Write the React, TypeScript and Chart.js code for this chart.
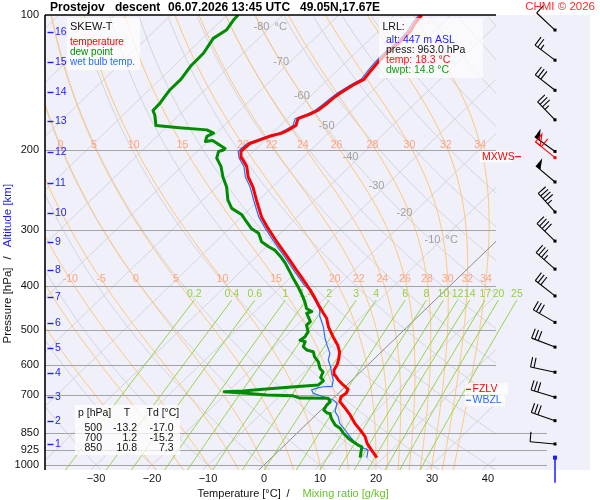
import React, { useEffect, useRef } from "react";
import { Chart, registerables } from "chart.js";
Chart.register(...registerables);

const FF = '"Liberation Sans", Arial, Helvetica, sans-serif';
Chart.defaults.font.family = FF;

// ---- diagram constants ----
const SKEW = 83.37; // degC per decade of pressure
const P_TOP = 100;
const P_BOT = 1025.9;
const X_MIN = -39.11;
const X_MAX = 41.43;

// ---- header / info ----
const station = "Prostejov";
const soundingType = "descent";
const dateText = "06.07.2026 13:45 UTC";
const locationText = "49.05N,17.67E";
const copyrightText = "CHMI © 2026";

// ---- axes ----
const pressureTicks = [100, 200, 300, 400, 500, 600, 700, 850, 925, 1000];
const tempTicks = [-30, -20, -10, 0, 10, 20, 30, 40];
const altKm = [1, 2, 3, 4, 5, 6, 7, 8, 9, 10, 11, 12, 13, 14, 15, 16];
const altP = [898, 799, 706, 625, 550, 484, 423, 369, 319, 275, 236, 202, 172, 148, 127, 109];

// ---- temperature profile ----
const tempP = [963, 929, 895, 865, 836, 808, 774, 748, 723, 705, 693, 679, 664, 647, 631, 615, 599, 579, 560, 541, 523, 493, 472, 460, 441, 419, 398, 369, 344, 319, 298, 281, 258, 241, 229, 217, 208, 201, 199, 193, 189, 186, 183, 180, 176, 170, 166, 163, 158.5, 153, 149, 143, 139, 132.5, 127, 121.6, 114.6, 108.9, 104.3, 100];
const tempT = [18.8, 16.6, 14.4, 12.8, 10.7, 8.5, 6.1, 4.0, 1.8, 1.1, 1.4, 1.0, -0.7, -2.5, -4.0, -5.1, -5.5, -6.4, -7.5, -9.1, -11.0, -14.1, -16.0, -17.5, -19.9, -22.7, -25.7, -30.3, -34.5, -39.1, -43.1, -46.4, -50.4, -53.5, -56.2, -58.4, -60.8, -62.2, -62.2, -62.1, -60.8, -59.9, -58.3, -57.7, -57.2, -58.1, -56.8, -56.1, -55.8, -55.6, -55.3, -54.5, -53.6, -54.0, -54.3, -54.4, -54.1, -54.2, -54.9, -55.2];

// ---- dew point profile ----
const dewP = [963, 911, 903, 888, 872, 850, 829, 815, 788, 768, 766, 755, 736, 723, 711, 710, 702, 699, 693, 687, 685, 679, 670, 664, 650, 639, 621, 610, 590, 575, 560, 555, 546, 532, 528, 519, 506, 489, 480, 468, 460, 456, 449, 437, 423, 402, 381, 356, 344, 333, 327, 319, 305.5, 298, 288, 278, 269, 258, 241, 229, 217, 208, 201, 199.5, 198, 190, 191, 186, 183, 180, 178, 176, 167, 163, 157, 153, 147, 139, 130, 121.6, 112.7, 108, 102.6, 100];
const dewT = [15.8, 14.1, 13.1, 11.6, 10.1, 8.3, 6.8, 5.3, 3.4, 2.2, 1.6, 0.5, 0.1, 0.1, -0.9, -6.0, -7.6, -12.5, -16.4, -20.7, -17.4, -14.2, -9.0, -5.1, -5.0, -6.1, -6.7, -7.9, -9.4, -11.0, -12.2, -13.7, -14.9, -15.5, -16.7, -16.4, -16.8, -18.3, -18.3, -19.6, -20.5, -19.9, -21.4, -22.6, -24.2, -26.9, -29.9, -33.6, -35.7, -37.9, -39.7, -41.8, -43.9, -46.1, -48.2, -50.3, -53.3, -55.5, -58.2, -60.7, -63.0, -65.3, -66.2, -65.6, -65.6, -69.3, -70.4, -71.1, -70.5, -72.3, -77.6, -82.2, -84.3, -85.5, -85.6, -85.9, -86.3, -86.3, -87.0, -87.1, -88.1, -87.3, -87.9, -88.0];

// ---- wet bulb profile ----
const wbP = [963, 926, 911, 888, 865, 836, 808, 781, 761, 729, 717, 693, 681, 675, 670, 669, 647, 626, 605, 584, 565, 541, 519, 493, 468, 452, 437, 423, 408, 398, 369, 344, 319, 298, 281, 258, 241, 229, 217, 208, 201, 199, 193, 189, 186, 183, 180, 176, 170, 166, 163, 158.5, 153, 149, 143, 139, 132.5, 127, 121.6, 114.6, 108.9, 104.3, 100];
const wbT = [17.0, 15.8, 13.8, 11.9, 10.1, 8.0, 5.8, 4.3, 2.8, 1.6, 0.3, -4.5, -5.4, -4.8, -3.9, -2.4, -3.4, -4.9, -6.3, -8.0, -8.9, -11.0, -12.9, -15.0, -17.5, -18.8, -20.6, -22.4, -24.4, -26.2, -30.8, -35.0, -39.6, -43.6, -46.9, -50.9, -54.0, -56.7, -58.9, -61.3, -62.7, -62.7, -62.6, -61.3, -60.4, -58.8, -58.2, -57.7, -58.6, -57.3, -56.6, -56.3, -56.1, -55.8, -55.0, -54.1, -54.5, -54.8, -54.9, -54.6, -54.7, -55.4, -55.7];

// ---- winds (knots) ----
const windP = [898, 797, 707, 622, 547, 482, 421, 367, 318, 274, 235, 201, 171, 147, 126, 108];
const windDir = [275, 289, 287, 282, 291, 300, 308, 311, 314, 318, 310, 306, 316, 308, 307, 313];
const windSpd = [10, 30, 30, 20, 30, 30, 30, 35, 40, 45, 50, 50, 35, 30, 25, 10];
const mxwsP = 207.5;
const mxwsDir = 309;
const mxwsSpd = 60;

// ---- levels ----
const fzlvP = 679;
const wbzlP = 718;

// ---- lowest reported level ----
const lrlAlt = 447;
const lrlPress = 963.0;
const lrlTemp = 18.3;
const lrlDwpt = 14.8;

// ---- standard level table ----
const tableP = [500, 700, 850];
const tableT = [-13.2, 1.2, 10.8];
const tableTd = [-17.0, -15.2, 7.3];

// ---- background families ----
const isothermLabelT = [-80, -70, -60, -50, -40, -30, -20, -10];
const isothermLabelP = [106.3, 127.2, 151.4, 176.6, 206.9, 239.9, 275.4, 316.2];
const thetaW = [-20, -15, -10, -5, 0, 5, 10, 15, 20, 22, 24, 26, 28, 30, 32, 34];
const thetaWLabelP = [194.5, 387.0];
const mixRatios = [0.2, 0.4, 0.6, 1, 1.4, 2, 3, 4, 6, 8, 10, 12, 14, 17, 20, 25];
const mixTopP = 430;

const skewX = (t: number, p: number) => t + SKEW * Math.log10(1000 / p);

function lapse(p: number, Tk: number) {
  const Tc = Tk - 273.15;
  const es = 6.112 * Math.exp((17.67 * Tc) / (Tc + 243.5));
  const rs = (0.622 * es) / (p - es);
  const Rd = 287.04, cp = 1005.7, Lv = 2.501e6, eps = 0.622;
  const num = (Rd * Tk + Lv * rs) / p;
  const den = cp + (Lv * Lv * rs * eps) / (Rd * Tk * Tk);
  return num / den;
}

function moistCurve(tw: number) {
  const pts: [number, number][] = [];
  let T = tw + 273.15;
  let p = 1000;
  while (p < P_BOT) {
    const h = Math.min(2, P_BOT - p);
    T += lapse(p, T) * h;
    p += h;
  }
  pts.push([P_BOT, T - 273.15]);
  T = tw + 273.15;
  p = 1000;
  pts.push([p, T - 273.15]);
  while (p > P_TOP + 1e-6) {
    const h = Math.max(-5, P_TOP - p);
    const k1 = lapse(p, T);
    const k2 = lapse(p + h / 2, T + (h / 2) * k1);
    const k3 = lapse(p + h / 2, T + (h / 2) * k2);
    const k4 = lapse(p + h, T + h * k3);
    T += (h / 6) * (k1 + 2 * k2 + 2 * k3 + k4);
    p += h;
    pts.push([p, T - 273.15]);
  }
  return pts;
}

function interpCurve(pts: [number, number][], p: number) {
  for (let i = 1; i < pts.length; i++) {
    const [p0, t0] = pts[i - 1];
    const [p1, t1] = pts[i];
    if ((p0 - p) * (p1 - p) <= 0 && p0 !== p1) {
      const f = (p - p0) / (p1 - p0);
      return t0 + f * (t1 - t0);
    }
  }
  return pts[pts.length - 1][1];
}

function mixTd(w: number, p: number) {
  const e = (w * p) / (622 + w);
  const l = Math.log(e / 6.112);
  return (243.5 * l) / (17.67 - l);
}

const fmtMinus = (v: number) => (v < 0 ? "\u2212" + Math.abs(v) : String(v));

function txt(ctx: CanvasRenderingContext2D, s: string, x: number, y: number, color: string, size: number, align: CanvasTextAlign = "left", bold = false) {
  ctx.fillStyle = color;
  ctx.font = `${bold ? "bold " : ""}${size}px ${FF}`;
  ctx.textAlign = align;
  ctx.textBaseline = "middle";
  ctx.fillText(s, x, y);
}

function drawBarb(ctx: CanvasRenderingContext2D, x: number, y: number, dirDeg: number, spd: number, color: string, hollow: boolean) {
  const r = (dirDeg * Math.PI) / 180;
  const ux = Math.sin(r), uy = -Math.cos(r);
  const L = 25, BL = 10, HB = 5.5, GAP = 3.5, FW = 6;
  const ex = x + ux * L, ey = y + uy * L;
  const nx = -uy, ny = ux;
  ctx.save();
  ctx.strokeStyle = color;
  ctx.fillStyle = color;
  ctx.lineWidth = 1.1;
  ctx.beginPath();
  ctx.moveTo(x, y);
  ctx.lineTo(ex, ey);
  ctx.stroke();
  let s = Math.round(spd / 5) * 5;
  let d = 0;
  while (s >= 50) {
    const ax = ex - ux * d, ay = ey - uy * d;
    const bx = ex - ux * (d + FW), by = ey - uy * (d + FW);
    ctx.beginPath();
    ctx.moveTo(ax, ay);
    ctx.lineTo(ax + nx * BL, ay + ny * BL);
    ctx.lineTo(bx, by);
    ctx.closePath();
    if (hollow) ctx.stroke();
    else ctx.fill();
    d += FW + 1.5;
    s -= 50;
  }
  while (s >= 10) {
    const ax = ex - ux * d, ay = ey - uy * d;
    ctx.beginPath();
    ctx.moveTo(ax, ay);
    ctx.lineTo(ax + nx * BL, ay + ny * BL);
    ctx.stroke();
    d += GAP;
    s -= 10;
  }
  if (s >= 5) {
    if (d === 0) d = GAP;
    const ax = ex - ux * d, ay = ey - uy * d;
    ctx.beginPath();
    ctx.moveTo(ax, ay);
    ctx.lineTo(ax + nx * HB, ay + ny * HB);
    ctx.stroke();
  }
  ctx.fillRect(x - 1.5, y - 1.5, 3, 3);
  ctx.restore();
}

const skewPlugin = {
  id: "skewT",
  beforeDraw(chart: any) {
    const { ctx, chartArea } = chart;
    ctx.save();
    ctx.fillStyle = "#f0f0fa";
    ctx.fillRect(chartArea.left, chartArea.top, chartArea.right + 94 - chartArea.left, chartArea.bottom - chartArea.top);
    ctx.restore();
  },
  beforeDatasetsDraw(chart: any) {
    const { ctx, chartArea } = chart;
    const xs = chart.scales.x, ys = chart.scales.y;
    const PX = (t: number, p: number) => xs.getPixelForValue(skewX(t, p));
    const PY = (p: number) => ys.getPixelForValue(p);
    const { left, top, right, bottom } = chartArea;

    ctx.save();
    ctx.beginPath();
    ctx.rect(left, top, right - left, bottom - top);
    ctx.clip();
    ctx.lineWidth = 1;
    // dry adiabats
    ctx.strokeStyle = "#d4d4dc";
    for (let th = -40; th <= 190; th += 10) {
      ctx.beginPath();
      let first = true;
      for (let p = P_BOT; p >= P_TOP - 0.01; p -= 5) {
        const T = (th + 273.15) * Math.pow(p / 1000, 0.2857) - 273.15;
        const x = PX(T, p), y = PY(p);
        if (first) { ctx.moveTo(x, y); first = false; } else ctx.lineTo(x, y);
      }
      ctx.stroke();
    }
    // isotherms
    for (let t = -130; t <= 40; t += 10) {
      if (t === 0) continue;
      ctx.strokeStyle = "#d4d4dc";
      ctx.beginPath();
      ctx.moveTo(PX(t, P_BOT), PY(P_BOT));
      ctx.lineTo(PX(t, P_TOP), PY(P_TOP));
      ctx.stroke();
    }
    // moist adiabats
    ctx.strokeStyle = "#ffc77a";
    const curves = thetaW.map((tw) => moistCurve(tw));
    curves.forEach((pts) => {
      ctx.beginPath();
      pts.forEach(([p, t], i) => {
        const x = PX(t, p), y = PY(p);
        if (i === 0) ctx.moveTo(x, y); else ctx.lineTo(x, y);
      });
      ctx.stroke();
    });
    // 0 degC isotherm
    ctx.strokeStyle = "#8a8a8a";
    ctx.beginPath();
    ctx.moveTo(PX(0, P_BOT), PY(P_BOT));
    ctx.lineTo(PX(0, P_TOP), PY(P_TOP));
    ctx.stroke();
    ctx.restore();

    // mixing ratio lines (may run past the right edge)
    ctx.save();
    ctx.beginPath();
    ctx.rect(left, top, right + 94 - left, bottom - top);
    ctx.clip();
    ctx.strokeStyle = "#93d23c";
    ctx.lineWidth = 1;
    mixRatios.forEach((w) => {
      ctx.beginPath();
      let first = true;
      for (let p = P_BOT; p >= mixTopP - 0.01; p -= 5) {
        const x = PX(mixTd(w, p), p), y = PY(p);
        if (first) { ctx.moveTo(x, y); first = false; } else ctx.lineTo(x, y);
      }
      const xe = PX(mixTd(w, mixTopP), mixTopP);
      ctx.lineTo(xe, PY(mixTopP));
      ctx.stroke();
    });
    ctx.restore();

    // isobars
    ctx.save();
    ctx.strokeStyle = "#a4a4a4";
    ctx.lineWidth = 1.2;
    pressureTicks.forEach((p) => {
      if (p === P_TOP) return;
      const y = Math.round(PY(p)) + 0.5;
      ctx.beginPath();
      ctx.moveTo(left, y);
      ctx.lineTo(p >= 850 ? right + 51 : right, y);
      ctx.stroke();
    });
    ctx.restore();

    // labels
    ctx.save();
    curves.forEach((pts, i) => {
      thetaWLabelP.forEach((lp) => {
        const x = PX(interpCurve(pts, lp), lp);
        if (x < left + 4 || x > right - 4) return;
        txt(ctx, String(thetaW[i]), x, PY(lp), "#ffa282", 10.5, "center");
      });
    });
    mixRatios.forEach((w) => {
      const x = PX(mixTd(w, mixTopP), mixTopP);
      txt(ctx, String(w), x, PY(mixTopP) - 6, "#96d040", 10.5, "center");
    });
    isothermLabelT.forEach((t, i) => {
      const p = isothermLabelP[i];
      const x = PX(t, p) - 1;
      const y = PY(p);
      txt(ctx, String(t), x, y, "#a0a0a0", 11, "right");
      if (i === 0 || i === isothermLabelT.length - 1) txt(ctx, " °C", x + 2, y, "#a0a0a0", 11, "left");
    });
    ctx.restore();
  },
  afterDatasetsDraw(chart: any) {
    const { ctx, chartArea } = chart;
    const ys = chart.scales.y;
    const PY = (p: number) => ys.getPixelForValue(p);
    const { left, top, right, bottom } = chartArea;
    ctx.save();

    // frame lines
    ctx.strokeStyle = "#000";
    ctx.lineWidth = 1.6;
    ctx.beginPath();
    ctx.moveTo(left, top);
    ctx.lineTo(right, top);
    ctx.stroke();
    ctx.beginPath();
    ctx.moveTo(left, top);
    ctx.lineTo(left, bottom);
    ctx.stroke();

    // legend box
    ctx.fillStyle = "rgba(255,255,255,0.72)";
    ctx.fillRect(left + 22, top + 3, 73, 52);
    txt(ctx, "SKEW-T", left + 25, top + 12, "#111", 11);
    txt(ctx, "temperature", left + 25, top + 27, "#ff0000", 10);
    txt(ctx, "dew point", left + 25, top + 37, "#008c00", 10);
    txt(ctx, "wet bulb temp.", left + 25, top + 47, "#2a6cff", 10);

    // LRL box
    ctx.fillStyle = "rgba(255,255,255,0.68)";
    ctx.fillRect(379, top + 3, 104, 60);
    txt(ctx, "LRL:", 382.5, 27, "#111", 10.5);
    txt(ctx, `alt: ${lrlAlt} m ASL`, 386, 40, "#1c1cff", 10.5);
    txt(ctx, `press: ${lrlPress.toFixed(1)} hPa`, 386, 50, "#111", 10.5);
    txt(ctx, `temp: ${lrlTemp.toFixed(1)} °C`, 386, 60, "#ff1010", 10.5);
    txt(ctx, `dwpt: ${lrlDwpt.toFixed(1)} °C`, 386, 70, "#10a010", 10.5);

    // table box
    ctx.fillStyle = "rgba(255,255,255,0.72)";
    ctx.fillRect(75, 405, 105, 50);
    txt(ctx, "p [hPa]", 78, 413.5, "#111", 10.5);
    txt(ctx, "T", 127, 413.5, "#111", 10.5, "center");
    txt(ctx, "Td [°C]", 146.5, 413.5, "#111", 10.5);
    tableP.forEach((p, i) => {
      const y = 428.5 + i * 9.8;
      txt(ctx, String(p), 102, y, "#111", 10.5, "right");
      txt(ctx, tableT[i].toFixed(1), 137, y, "#111", 10.5, "right");
      txt(ctx, tableTd[i].toFixed(1), 173.5, y, "#111", 10.5, "right");
    });

    // FZLV / WBZL / MXWS markers
    const yf = PY(fzlvP);
    ctx.fillStyle = "rgba(255,255,255,0.8)";
    ctx.fillRect(right - 31, yf - 6, 43, 11);
    ctx.strokeStyle = "#ff0000";
    ctx.lineWidth = 1.2;
    ctx.beginPath(); ctx.moveTo(right - 30, yf); ctx.lineTo(right - 25, yf); ctx.stroke();
    txt(ctx, "FZLV", right - 23.5, yf, "#ff0000", 10.5);
    const yw = PY(wbzlP);
    ctx.fillStyle = "rgba(255,255,255,0.8)";
    ctx.fillRect(right - 31, yw - 5, 40, 11);
    ctx.strokeStyle = "#2a6cff";
    ctx.beginPath(); ctx.moveTo(right - 30, yw); ctx.lineTo(right - 25, yw); ctx.stroke();
    txt(ctx, "WBZL", right - 23.5, yw, "#2a6cff", 10.5);
    const ym = PY(mxwsP) - 1;
    ctx.fillStyle = "rgba(255,255,255,0.85)";
    ctx.fillRect(right - 16, ym - 5.5, 32, 11);
    txt(ctx, "MXWS", right - 14, ym, "#ff0000", 10.5);
    ctx.strokeStyle = "#ff0000";
    ctx.beginPath(); ctx.moveTo(right + 19, ym); ctx.lineTo(right + 25, ym); ctx.stroke();

    // altitude ticks
    altKm.forEach((k, i) => {
      const y = Math.round(PY(altP[i])) + 0.5;
      ctx.strokeStyle = "#1c1cff";
      ctx.lineWidth = 1.4;
      ctx.beginPath(); ctx.moveTo(left + 2.5, y); ctx.lineTo(left + 8.5, y); ctx.stroke();
      txt(ctx, String(k), left + 10, y, "#1c1cff", 10.5);
    });

    // wind barbs
    const bx = right + 59;
    windP.forEach((p, i) => {
      drawBarb(ctx, bx, PY(p), windDir[i], windSpd[i], "#000", false);
    });
    drawBarb(ctx, bx, PY(mxwsP), mxwsDir, mxwsSpd, "#ff0000", true);
    // surface marker
    const ysf = PY(lrlPress);
    ctx.strokeStyle = "#1c1cff";
    ctx.fillStyle = "#1c1cff";
    ctx.lineWidth = 1.5;
    ctx.beginPath(); ctx.moveTo(bx, ysf); ctx.lineTo(bx, ysf + 25); ctx.stroke();
    ctx.fillRect(bx - 2, ysf - 2, 4, 4);

    ctx.restore();
  },
  afterDraw(chart: any) {
    const { ctx } = chart;
    ctx.save();
    // title
    txt(ctx, station, 50, 7.5, "#000", 12, "left", true);
    txt(ctx, soundingType, 115, 7.5, "#000", 12, "left", true);
    txt(ctx, dateText, 168, 7.5, "#000", 12, "left", true);
    txt(ctx, locationText, 300, 7.5, "#000", 12, "left", true);
    txt(ctx, copyrightText, 595, 7, "#ff2a2a", 11.5, "right");
    // x title
    txt(ctx, "Temperature [°C]", 197.5, 493.5, "#111", 11);
    txt(ctx, "/", 288, 493.5, "#111", 11, "center");
    txt(ctx, "Mixing ratio [g/kg]", 302.5, 493.5, "#66c22a", 11);
    // y title
    ctx.translate(8, 0);
    ctx.rotate(-Math.PI / 2);
    txt(ctx, "Pressure [hPa]", -305.5, 0, "#111", 11.5, "center");
    txt(ctx, "/", -258, 0, "#111", 11.5, "center");
    txt(ctx, "Altitude [km]", -215.5, 0, "#1c1cff", 11.5, "center");
    ctx.restore();
  },
};

export default function App() {
  const ref = useRef<HTMLCanvasElement>(null);
  useEffect(() => {
    const toXY = (ps: number[], ts: number[]) => ps.map((p, i) => ({ x: skewX(ts[i], p), y: p }));
    const chart = new Chart(ref.current as HTMLCanvasElement, {
      type: "scatter",
      data: {
        datasets: [
          { label: "temperature", data: toXY(tempP, tempT), borderColor: "#ff0000", backgroundColor: "#ff0000", borderWidth: 3, pointRadius: 0, showLine: true, tension: 0, borderJoinStyle: "round" } as any,
          { label: "dew point", data: toXY(dewP, dewT), borderColor: "#008c00", backgroundColor: "#008c00", borderWidth: 3, pointRadius: 0, showLine: true, tension: 0, borderJoinStyle: "round" } as any,
          { label: "wet bulb temp.", data: toXY(wbP, wbT), borderColor: "#2a6cff", backgroundColor: "#2a6cff", borderWidth: 1.2, pointRadius: 0, showLine: true, tension: 0 } as any,
        ],
      },
      options: {
        responsive: false,
        animation: false,
        events: [],
        layout: { padding: { top: 15, right: 104, left: 0, bottom: 0 } },
        plugins: { legend: { display: false }, tooltip: { enabled: false }, title: { display: false } },
        scales: {
          x: {
            type: "linear",
            min: X_MIN,
            max: X_MAX,
            afterBuildTicks: (s: any) => { s.ticks = tempTicks.map((v) => ({ value: v })); },
            afterFit: (s: any) => { s.height = 30; },
            grid: { display: false, drawTicks: false },
            border: { display: false },
            ticks: { autoSkip: false, maxRotation: 0, padding: 2, color: "#111", font: { size: 11 }, callback: (v: any) => fmtMinus(Number(v)) },
          },
          y: {
            type: "logarithmic",
            reverse: true,
            min: P_TOP,
            max: P_BOT,
            afterBuildTicks: (s: any) => { s.ticks = pressureTicks.map((v) => ({ value: v })); },
            afterFit: (s: any) => { s.width = 45; },
            grid: { display: false, drawTicks: false },
            border: { display: false },
            ticks: { autoSkip: false, padding: 6, color: "#111", font: { size: 11 }, callback: (v: any) => String(v) },
          },
        },
      } as any,
      plugins: [skewPlugin],
    });
    return () => chart.destroy();
  }, []);
  return (
    <div style={{ position: "fixed", left: 0, top: 0, width: 600, height: 500, background: "#fff" }}>
      <canvas ref={ref} width={600} height={500} style={{ display: "block" }} />
    </div>
  );
}
